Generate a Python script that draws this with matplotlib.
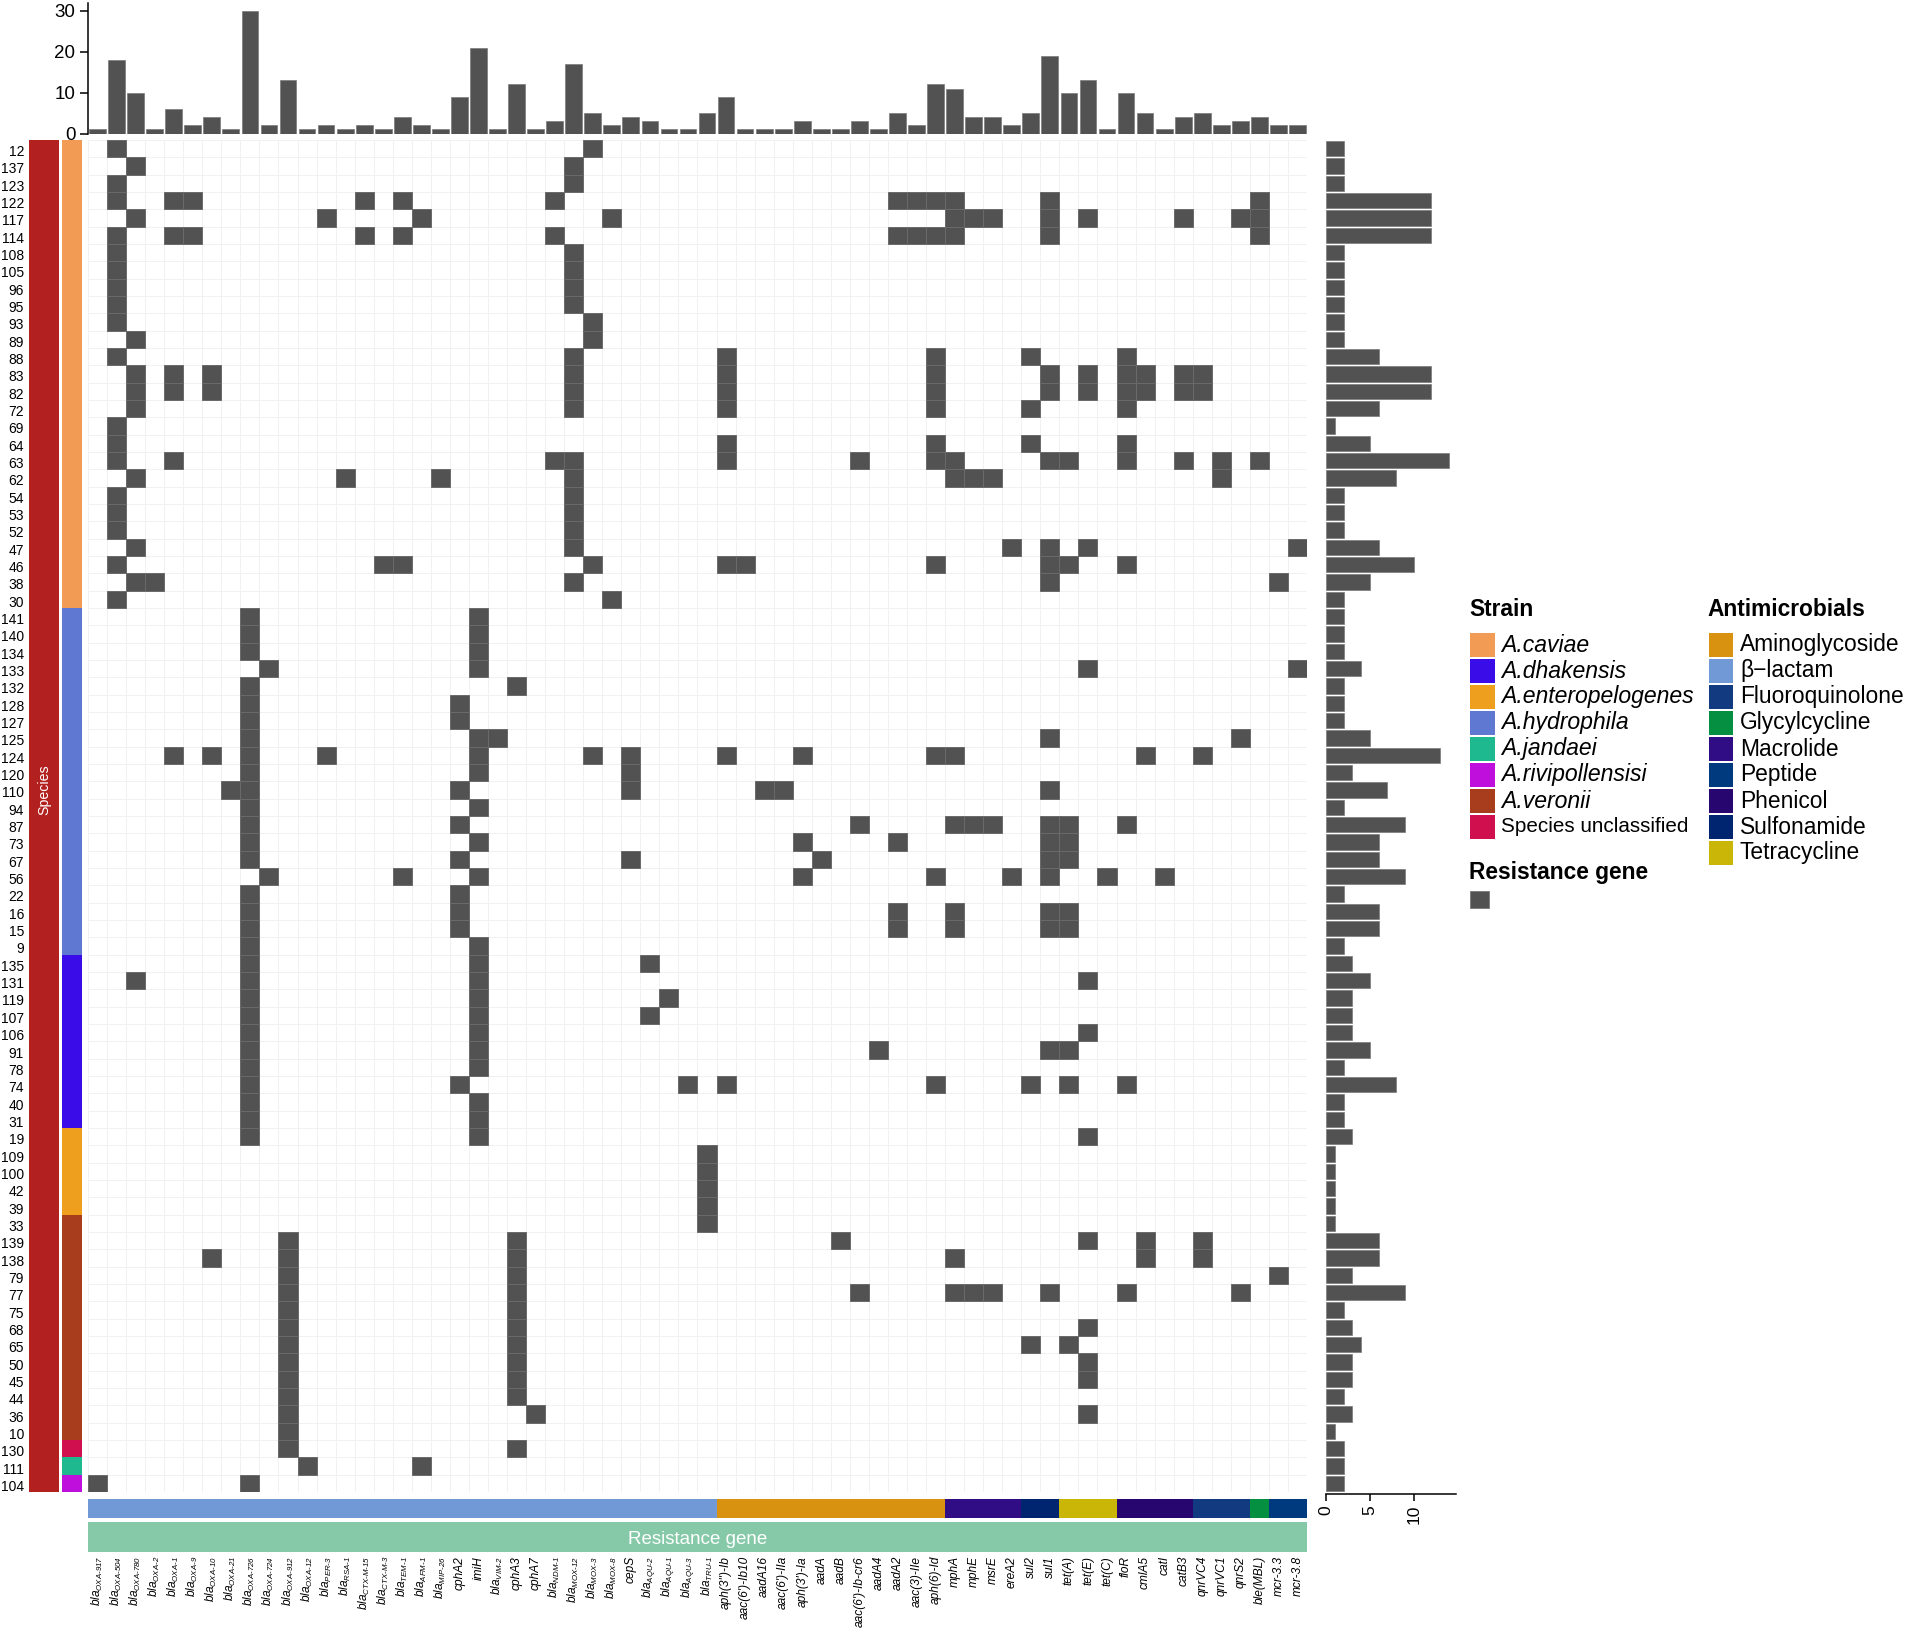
import matplotlib
matplotlib.use('Agg')
import matplotlib.pyplot as plt
import matplotlib._mathtext as _mt
from matplotlib.patches import Rectangle
from matplotlib.transforms import ScaledTranslation
import numpy as np

_mt.SHRINK_FACTOR = 0.66
plt.rcParams['font.family'] = ['Liberation Sans', 'DejaVu Sans']
plt.rcParams['mathtext.fontset'] = 'custom'
plt.rcParams['mathtext.rm'] = 'Liberation Sans:italic'
plt.rcParams['mathtext.it'] = 'Liberation Sans:italic'
plt.rcParams['mathtext.bf'] = 'Liberation Sans:bold'

# ---------- data ----------
bla_genes = ['OXA-917', 'OXA-504', 'OXA-780', 'OXA-2', 'OXA-1', 'OXA-9', 'OXA-10', 'OXA-21',
             'OXA-726', 'OXA-724', 'OXA-912', 'OXA-12', 'PER-3', 'RSA-1', 'CTX-M-15', 'CTX-M-3',
             'TEM-1', 'AFM-1', 'MIP-26', '*cphA2', '*imiH', 'VIM-2', '*cphA3', '*cphA7', 'NDM-1',
             'MOX-12', 'MOX-3', 'MOX-8', '*cepS', 'AQU-2', 'AQU-1', 'AQU-3', 'TRU-1']
other_genes = ["aph(3'')-Ib", "aac(6')-Ib10", 'aadA16', "aac(6')-IIa", "aph(3')-Ia", 'aadA', 'aadB',
               "aac(6')-Ib-cr6", 'aadA4', 'aadA2', 'aac(3)-IIe', 'aph(6)-Id', 'mphA', 'mphE', 'msrE',
               'ereA2', 'sul2', 'sul1', 'tet(A)', 'tet(E)', 'tet(C)', 'floR', 'cmlA5', 'catI', 'catB3',
               'qnrVC4', 'qnrVC1', 'qnrS2', 'ble(MBL)', 'mcr-3.3', 'mcr-3.8']

samples = [12, 137, 123, 122, 117, 114, 108, 105, 96, 95, 93, 89, 88, 83, 82, 72, 69, 64, 63, 62, 54, 53, 52,
           47, 46, 38, 30, 141, 140, 134, 133, 132, 128, 127, 125, 124, 120, 110, 94, 87, 73, 67, 56, 22, 16,
           15, 9, 135, 131, 119, 107, 106, 91, 78, 74, 40, 31, 19, 109, 100, 42, 39, 33, 139, 138, 79, 77, 75,
           68, 65, 50, 45, 44, 36, 10, 130, 111, 104]

# columns (gene index) carrying a resistance gene, one list per sample row
present = [
    [1, 26], [2, 25], [1, 25],
    [1, 4, 5, 14, 16, 24, 42, 43, 44, 45, 50, 61],
    [2, 12, 17, 27, 45, 46, 47, 50, 52, 57, 60, 61],
    [1, 4, 5, 14, 16, 24, 42, 43, 44, 45, 50, 61],
    [1, 25], [1, 25], [1, 25], [1, 25], [1, 26], [2, 26],
    [1, 25, 33, 44, 49, 54],
    [2, 4, 6, 25, 33, 44, 50, 52, 54, 55, 57, 58],
    [2, 4, 6, 25, 33, 44, 50, 52, 54, 55, 57, 58],
    [2, 25, 33, 44, 49, 54],
    [1],
    [1, 33, 44, 49, 54],
    [1, 4, 24, 25, 33, 40, 44, 45, 50, 51, 54, 57, 59, 61],
    [2, 13, 18, 25, 45, 46, 47, 59],
    [1, 25], [1, 25], [1, 25],
    [2, 25, 48, 50, 52, 63],
    [1, 15, 16, 26, 33, 34, 44, 50, 51, 54],
    [2, 3, 25, 50, 62],
    [1, 27],
    [8, 20], [8, 20], [8, 20],
    [9, 20, 52, 63],
    [8, 22], [8, 19], [8, 19],
    [8, 20, 21, 50, 60],
    [4, 6, 8, 12, 20, 26, 28, 33, 37, 44, 45, 55, 58],
    [8, 20, 28],
    [7, 8, 19, 28, 35, 36, 50],
    [8, 20],
    [8, 19, 40, 45, 46, 47, 50, 51, 54],
    [8, 20, 37, 42, 50, 51],
    [8, 19, 28, 38, 50, 51],
    [9, 16, 20, 37, 44, 48, 50, 53, 56],
    [8, 19],
    [8, 19, 42, 45, 50, 51],
    [8, 19, 42, 45, 50, 51],
    [8, 20],
    [8, 20, 29],
    [2, 8, 20, 52],
    [8, 20, 30],
    [8, 20, 29],
    [8, 20, 52],
    [8, 20, 41, 50, 51],
    [8, 20],
    [8, 19, 31, 33, 44, 49, 51, 54],
    [8, 20], [8, 20],
    [8, 20, 52],
    [32], [32], [32], [32], [32],
    [10, 22, 39, 52, 55, 58],
    [6, 10, 22, 45, 55, 58],
    [10, 22, 62],
    [10, 22, 40, 45, 46, 47, 50, 54, 60],
    [10, 22],
    [10, 22, 52],
    [10, 22, 49, 51],
    [10, 22, 52],
    [10, 22, 52],
    [10, 22],
    [10, 23, 52],
    [10],
    [10, 22],
    [11, 17],
    [0, 8],
]

gene_totals = [1, 18, 10, 1, 6, 2, 4, 1, 30, 2, 13, 1, 2, 1, 2, 1, 4, 2, 1, 9, 21, 1, 12, 1, 3, 17, 5, 2, 4, 3,
               1, 1, 5, 9, 1, 1, 1, 3, 1, 1, 3, 1, 5, 2, 12, 11, 4, 4, 2, 5, 19, 10, 13, 1, 10, 5, 1, 4, 5, 2,
               3, 4, 2, 2]
sample_totals = [2, 2, 2, 12, 12, 12, 2, 2, 2, 2, 2, 2, 6, 12, 12, 6, 1, 5, 14, 8, 2, 2, 2, 6, 10, 5, 2,
                 2, 2, 2, 4, 2, 2, 2, 5, 13, 3, 7, 2, 9, 6, 6, 9, 2, 6, 6, 2, 3, 5, 3, 3, 3, 5, 2, 8, 2, 2,
                 3, 1, 1, 1, 1, 1, 6, 6, 3, 9, 2, 3, 4, 3, 3, 2, 3, 1, 2, 2, 2]

strain_order = ['A.caviae', 'A.hydrophila', 'A.dhakensis', 'A.enteropelogenes', 'A.veronii',
                'Species unclassified', 'A.jandaei', 'A.rivipollensisi']
strain_counts = [27, 20, 10, 5, 13, 1, 1, 1]
class_order = ['β−lactam', 'Aminoglycoside', 'Macrolide', 'Sulfonamide', 'Tetracycline', 'Phenicol',
               'Fluoroquinolone', 'Glycylcycline', 'Peptide']
class_counts = [33, 12, 4, 2, 3, 4, 3, 1, 2]

strain_legend = ['A.caviae', 'A.dhakensis', 'A.enteropelogenes', 'A.hydrophila', 'A.jandaei',
                 'A.rivipollensisi', 'A.veronii', 'Species unclassified']
strain_colors = ['#F29B54', '#3A0CE8', '#EE9F1E', '#5F78D2', '#1FB98F', '#BE0FDC', '#A83D1D', '#D0104E']
class_legend = ['Aminoglycoside', 'β−lactam', 'Fluoroquinolone', 'Glycylcycline', 'Macrolide', 'Peptide',
                'Phenicol', 'Sulfonamide', 'Tetracycline']
class_colors = ['#D8920F', '#7099D6', '#113A80', '#058F40', '#300C85', '#003A7E', '#28066F', '#002570', '#C9B606']

DARK = '#525252'
W, H = 1908, 1632
fig = plt.figure(figsize=(W / 100, H / 100), dpi=100, facecolor='white')


def px_axes(x0, y0, x1, y1):
    return fig.add_axes([x0 / W, 1 - y1 / H, (x1 - x0) / W, (y1 - y0) / H])


def gene_label(g):
    if g.startswith('*'):
        return g[1:]
    return r'$\mathit{bla}_{\text{' + g + '}}$'


genes = [gene_label(g) for g in bla_genes] + other_genes
nrow, ncol = len(samples), len(genes)
matrix = np.zeros((nrow, ncol))
for r, cols in enumerate(present):
    matrix[r, cols] = 1

GX0, GX1, GY0, GY1 = 88, 1307, 140, 1492

# ---------- heat map ----------
ax = px_axes(GX0, GY0, GX1, GY1)
ax.pcolormesh(np.zeros_like(matrix), cmap='Greys', vmin=0, vmax=1, edgecolors='#f1f1f1', linewidth=0.7)
rr, cc = np.nonzero(matrix)
ax.bar(cc + 0.5, np.ones_like(rr), bottom=rr, width=1, color=DARK, edgecolor='#6a6a6a', linewidth=0.7)
ax.set_xlim(0, ncol)
ax.set_ylim(nrow, 0)
for s in ax.spines.values():
    s.set_visible(False)
ax.set_yticks(np.arange(nrow) + 0.5, [str(s) for s in samples], fontsize=10)
ax.tick_params(axis='y', length=0, pad=46)
ax.set_xticks(np.arange(ncol) + 0.5)
ax.set_xticklabels(genes, rotation=90, fontsize=8.6, style='italic', va='top', ha='center')
ax.tick_params(axis='x', length=0, pad=46)
off = ScaledTranslation(0, -2 / 100, fig.dpi_scale_trans)
for lab in ax.get_yticklabels():
    lab.set_transform(lab.get_transform() + off)

# ---------- top bars ----------
axt = px_axes(GX0, 3, GX1, 133.5)
axt.bar(np.arange(ncol) + 0.5, gene_totals, width=0.88, color=DARK, edgecolor='#7a7a7a', linewidth=0.5)
axt.set_xlim(0, ncol)
axt.set_ylim(0, 31.9)
for s in ['top', 'right', 'bottom']:
    axt.spines[s].set_visible(False)
axt.spines['left'].set_linewidth(1.1)
axt.set_xticks([])
axt.set_yticks([0, 10, 20, 30])
axt.tick_params(axis='y', length=6, width=1.1, labelsize=13.5, pad=3)

# ---------- right bars ----------
axr = px_axes(1326, GY0, 1456, 1494)
axr.barh(np.arange(nrow) + 0.5, sample_totals, height=0.88, color=DARK, edgecolor='#7a7a7a', linewidth=0.5)
axr.set_ylim((1494 - GY0) / (GY1 - GY0) * nrow, 0)
axr.set_xlim(0, 130 / 8.77)
for s in ['top', 'right', 'left']:
    axr.spines[s].set_visible(False)
axr.spines['bottom'].set_linewidth(1.1)
axr.set_yticks([])
axr.set_xticks([0, 5, 10])
axr.tick_params(axis='x', length=5, width=1.1, labelsize=12.5, labelrotation=90, pad=3)

# ---------- species / strain strips ----------
axs = px_axes(29, GY0, 59, GY1)
axs.bar(0.5, nrow, bottom=0, width=1, color='#B32020')
axs.set_xlim(0, 1)
axs.set_ylim(nrow, 0)
axs.axis('off')
axs.text(0.5, 0.5 * nrow * (790 - GY0) / (816 - GY0), 'Species', color='white', rotation=90,
         ha='center', va='center', fontsize=10.2)

axc = px_axes(62, GY0, 82, GY1)
bottom = 0
for name, n in zip(strain_order, strain_counts):
    axc.bar(0.5, n, bottom=bottom, width=1, color=strain_colors[strain_legend.index(name)])
    bottom += n
axc.set_xlim(0, 1)
axc.set_ylim(nrow, 0)
axc.axis('off')

# ---------- class / resistance strips ----------
axa = px_axes(GX0, 1499, GX1, 1518)
left = 0
for name, n in zip(class_order, class_counts):
    axa.barh(0.5, n, left=left, height=1, color=class_colors[class_legend.index(name)])
    left += n
axa.set_xlim(0, ncol)
axa.set_ylim(0, 1)
axa.axis('off')

axg = px_axes(GX0, 1522, GX1, 1552)
axg.barh(0.5, ncol, height=1, color='#85C9A8')
axg.set_xlim(0, ncol)
axg.set_ylim(0, 1)
axg.axis('off')
axg.text(ncol / 2, 0.43, 'Resistance gene', color='white', ha='center', va='center', fontsize=13.5)

# ---------- legends ----------
axl = fig.add_axes([0, 0, 1, 1], facecolor='none')
axl.set_xlim(0, W)
axl.set_ylim(H, 0)
axl.axis('off')
axl.text(1469, 610, 'Strain', fontsize=16.4, fontweight='bold', ha='left', va='center')
axl.text(1707, 610, 'Antimicrobials', fontsize=16.4, fontweight='bold', ha='left', va='center')
for i, (name, col) in enumerate(zip(strain_legend, strain_colors)):
    y = 632.5 + 26 * i
    axl.add_patch(Rectangle((1470, y), 25, 24, facecolor=col, edgecolor='none'))
    italic = name.startswith('A.')
    axl.text(1501, y + 12.5, name, fontsize=16.6 if italic else 14.9,
             style='italic' if italic else 'normal', ha='left', va='center')
for i, (name, col) in enumerate(zip(class_legend, class_colors)):
    y = 632.5 + 26 * i
    axl.add_patch(Rectangle((1709, y), 24, 24, facecolor=col, edgecolor='none'))
    axl.text(1740, y + 12.5, name, fontsize=16.4, ha='left', va='center')
axl.text(1469, 873, 'Resistance gene', fontsize=16.4, fontweight='bold', ha='left', va='center')
axl.add_patch(Rectangle((1470, 891), 19, 17, facecolor=DARK, edgecolor='#7a7a7a', linewidth=0.6))

fig.savefig('out.png', dpi=100, facecolor='white')
